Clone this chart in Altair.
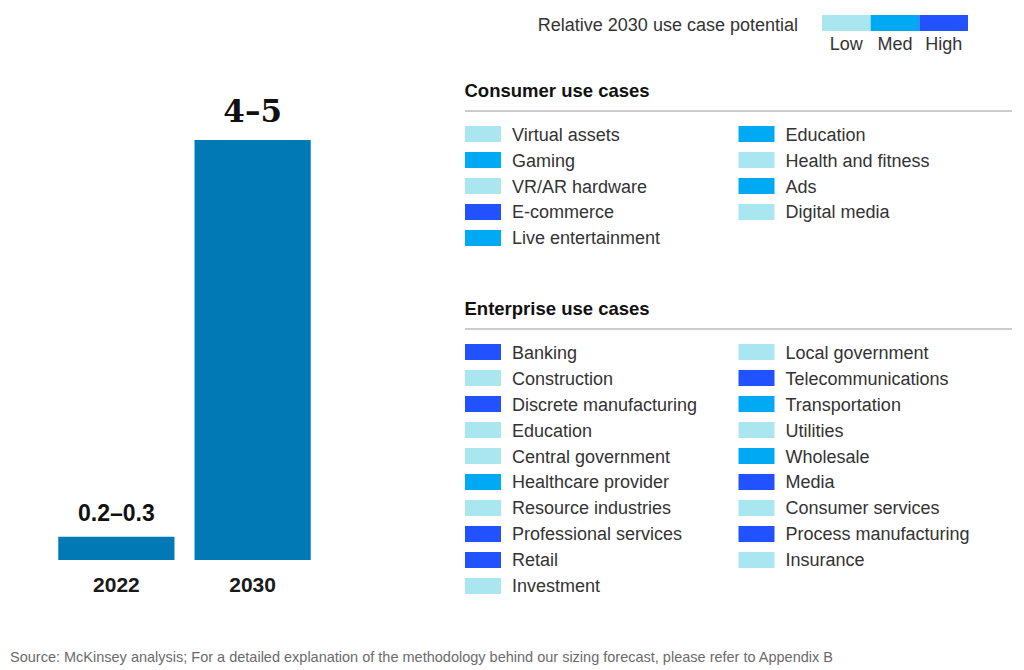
import altair as alt
import pandas as pd

SANS = "Liberation Sans"
SERIF = "DejaVu Serif"

# ---------------- data ----------------
years = ["2022", "2030"]
value_low = [0.2, 4.0]
value_high = [0.3, 5.0]
value_labels = ["0.2–0.3", "4–5"]

levels = ["Low", "Med", "High"]
level_colors = ["#AAE6F0", "#00A9F4", "#2251FF"]
legend_title = "Relative 2030 use case potential"

consumer_title = "Consumer use cases"
consumer_names = ["Virtual assets", "Gaming", "VR/AR hardware", "E-commerce", "Live entertainment",
                  "Education", "Health and fitness", "Ads", "Digital media"]
consumer_levels = ["Low", "Med", "Low", "High", "Med",
                   "Med", "Low", "Med", "Low"]
consumer_rows_per_col = 5

enterprise_title = "Enterprise use cases"
enterprise_names = ["Banking", "Construction", "Discrete manufacturing", "Education", "Central government",
                    "Healthcare provider", "Resource industries", "Professional services", "Retail", "Investment",
                    "Local government", "Telecommunications", "Transportation", "Utilities", "Wholesale",
                    "Media", "Consumer services", "Process manufacturing", "Insurance"]
enterprise_levels = ["High", "Low", "High", "Low", "Low",
                     "Med", "Low", "High", "High", "Low",
                     "Low", "High", "Med", "Low", "Med",
                     "High", "Low", "High", "Low"]
enterprise_rows_per_col = 10

source_text = ("Source: McKinsey analysis; For a detailed explanation of the methodology behind our "
               "sizing forecast, please refer to Appendix B")

color_scale = alt.Scale(domain=levels, range=level_colors)

# ---------------- bar chart ----------------
bar_df = pd.DataFrame({"year": years, "low": value_low, "high": value_high, "label": value_labels})

bar_base = alt.Chart(bar_df).transform_calculate(
    mid="(datum.low + datum.high) / 2"
).encode(
    x=alt.X("year:N", sort=years,
            scale=alt.Scale(paddingInner=0.147, paddingOuter=0.369),
            axis=alt.Axis(title=None, labelAngle=0, domain=False, ticks=False, tickSize=0,
                          labelPadding=14, labelFontSize=21, labelFontWeight="bold",
                          labelColor="#1a1a1a", labelFont=SANS)),
    y=alt.Y("mid:Q", scale=alt.Scale(domain=[0, 5.839], nice=False), axis=None),
)
bars = bar_base.mark_bar(color="#0079B5")
lab_small = bar_base.transform_filter(alt.datum.year == years[0]).mark_text(
    baseline="alphabetic", dy=-16, fontSize=23, fontWeight="bold", font=SANS, color="#111"
).encode(text="label:N")
lab_big = bar_base.transform_filter(alt.datum.year == years[1]).mark_text(
    baseline="alphabetic", dy=-18, fontSize=31, fontWeight="bold", font=SERIF, color="#111"
).encode(text="label:N")
bar_chart = alt.layer(bars, lab_small, lab_big).properties(width=353, height=545)

# ---------------- top legend ----------------
leg_df = pd.DataFrame({"level": levels, "idx": list(range(len(levels))),
                       "title": [legend_title] * len(levels)})
leg_x_scale = alt.Scale(domain=[-7.335, len(levels)], nice=False, zero=False)
leg_base = alt.Chart(leg_df).transform_calculate(
    idx_end="datum.idx + 1", idx_mid="datum.idx + 0.5"
)
leg_rect = leg_base.mark_rect().encode(
    x=alt.X("idx:Q", scale=leg_x_scale, axis=None),
    x2="idx_end:Q",
    color=alt.Color("level:N", scale=color_scale, legend=None),
)
leg_labels = leg_base.mark_text(baseline="alphabetic", dy=27, fontSize=18, font=SANS, color="#333").encode(
    x=alt.X("idx_mid:Q", scale=leg_x_scale, axis=None),
    text="level:N",
)
leg_text = leg_base.transform_filter(alt.datum.idx == 0).mark_text(
    align="right", baseline="alphabetic", dx=-24, dy=8, fontSize=18, font=SANS, color="#333"
).encode(
    x=alt.X("idx:Q", scale=leg_x_scale, axis=None),
    text="title:N",
)
legend_chart = alt.layer(leg_rect, leg_labels, leg_text).properties(width=503, height=16)

# ---------------- use case lists ----------------
SWATCH = "M0,-0.444H2V0.444H0Z"


def use_case_list(title, names, lvls, per_col, height):
    df = pd.DataFrame({
        "name": names,
        "level": lvls,
        "col": [i // per_col for i in range(len(names))],
        "row": [i % per_col for i in range(len(names))],
    })
    x = alt.X("col:O", bandPosition=0,
              scale=alt.Scale(type="band", paddingInner=0, paddingOuter=0), axis=None)
    y = alt.Y("row:O", scale=alt.Scale(type="band", paddingInner=0, paddingOuter=0.385), axis=None)
    base = alt.Chart(df).encode(x=x, y=y)
    sw = base.mark_point(shape=SWATCH, size=1296, filled=True, opacity=1, strokeWidth=0).encode(
        color=alt.Color("level:N", scale=color_scale, legend=None)
    )
    tx = base.mark_text(align="left", baseline="alphabetic", dx=47, dy=6.5, fontSize=18,
                        font=SANS, color="#333").encode(text="name:N")
    # thin header rule along the top edge of the list
    rule = alt.Chart(df).transform_aggregate(n="count()").mark_rule(
        color="#9a9a9a", strokeWidth=1
    ).encode(y=alt.value(0))
    return alt.layer(rule, sw, tx).properties(
        width=547, height=height,
        title=alt.TitleParams(title, anchor="start", fontSize=18.5, fontWeight="bold", color="#111",
                              font=SANS, offset=-5, baseline="alphabetic"),
    )


consumer_chart = use_case_list(consumer_title, consumer_names, consumer_levels, consumer_rows_per_col, 150)
enterprise_chart = use_case_list(enterprise_title, enterprise_names, enterprise_levels,
                                 enterprise_rows_per_col, 280)

right = alt.vconcat(legend_chart, alt.vconcat(consumer_chart, enterprise_chart, spacing=39), spacing=28)

chart = alt.hconcat(bar_chart, right, spacing=103).properties(
    title=alt.TitleParams(source_text, orient="bottom", anchor="start", fontSize=14.5, fontWeight="normal",
                          color="#6b6b6b", font=SANS, offset=42, dx=2),
    padding={"left": 0, "top": 7, "right": 0, "bottom": 0},
).configure(font=SANS).configure_view(stroke=None)

chart.save("out.html", embed_options={"renderer": "svg", "actions": False})
